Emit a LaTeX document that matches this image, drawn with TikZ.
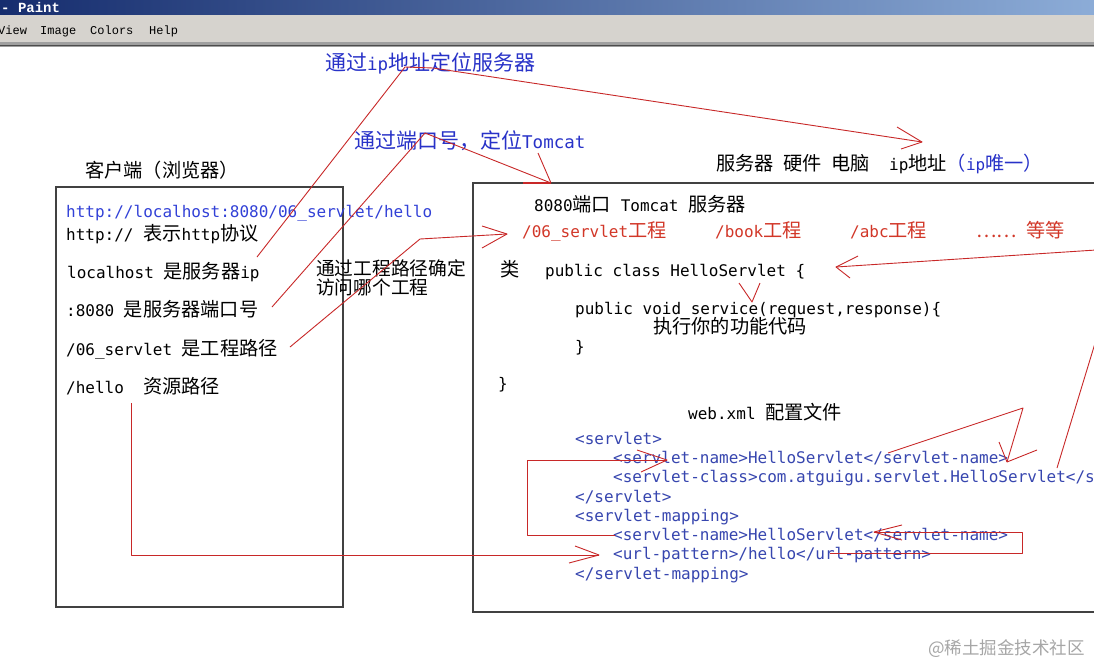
\documentclass[tikz,border=0pt]{standalone}
\usepackage{fontspec}
\setmonofont{DejaVu Sans Mono}
\newfontfamily\cjk[Scale=1.2]{Noto Sans CJK SC}
\newfontfamily\cjkplain{Noto Sans CJK SC}
\newfontfamily\menufont{Liberation Mono}
\newcommand\zh[1]{{\cjk #1}}
\definecolor{annblue}{RGB}{40,50,200}
\definecolor{urlblue}{RGB}{50,65,215}
\definecolor{xmlblue}{RGB}{55,70,175}
\definecolor{linered}{RGB}{200,40,40}
\definecolor{textred}{RGB}{210,55,40}
\definecolor{boxgray}{RGB}{65,65,65}
\definecolor{menugray}{RGB}{214,211,206}
\definecolor{titleleft}{RGB}{22,45,110}
\definecolor{titleright}{RGB}{140,172,215}
\begin{document}
\begin{tikzpicture}[x=1pt,y=-1pt,
  txt/.style={anchor=base west, inner sep=0pt, font=\ttfamily\fontsize{16}{18}\selectfont},
  ann/.style={txt, text=annblue, font=\ttfamily\fontsize{17.5}{19}\selectfont},
  note/.style={txt, font=\ttfamily\fontsize{15.6}{18}\selectfont},
  url/.style={txt, text=urlblue},
  xml/.style={txt, text=xmlblue},
  rtxt/.style={txt, text=textred},
  menu/.style={anchor=base west, inner sep=0pt, font=\menufont\fontsize{12}{12}\selectfont},
  redline/.style={draw=linered, line width=0.9pt, line join=round},
  box/.style={draw=boxgray, line width=1.4pt}]
\useasboundingbox (0,0) rectangle (1094,664);
\clip (0,0) rectangle (1094,664);
\fill[white] (0,0) rectangle (1094,664);
% window chrome
\shade[left color=titleleft, right color=titleright] (0,0) rectangle (1094,15);
\fill[menugray] (0,15) rectangle (1094,42);
\fill[gray!75] (0,42) rectangle (1094,47);
\draw[black!70, line width=1.2pt] (0,45.5) -- (1094,45.5);
\node[anchor=base west, inner sep=0pt, text=white, font=\menufont\bfseries\fontsize{14}{14}\selectfont] (title) at (1,12) {- Paint};
\node[menu] (mview) at (-2,34) {View};
\node[menu] (mimage) at (40,34) {Image};
\node[menu] (mcolors) at (90,34) {Colors};
\node[menu] (mhelp) at (149,34) {Help};
% boxes
\draw[box] (56,187) rectangle (343,607);
\draw[box] (1100,183) -- (473,183) -- (473,612) -- (1100,612);
% top annotations
\node[ann] (ipnote) at (325,70) {\zh{通过}ip\zh{地址定位服务器}};
\node[ann] (portnote) at (354,148) {\zh{通过端口号，定位}Tomcat};
\node[txt] (client) at (85,177) {\zh{客户端（浏览器）}};
\node[txt] (server) at (716,170) {\zh{服务器} \zh{硬件} \zh{电脑}\ \ ip\zh{地址}\textcolor{annblue}{\zh{（}ip\zh{唯一）}}};
% left box
\node[url] (urlfull) at (66,217) {http://localhost:8080/06\_servlet/hello};
\node[txt] (lhttp) at (66,240) {http:// \zh{表示}http\zh{协议}};
\node[txt] (lhost) at (67,278) {localhost \zh{是服务器}ip};
\node[txt] (lport) at (66,316) {:8080 \zh{是服务器端口号}};
\node[txt] (lproj) at (66,355) {/06\_servlet \zh{是工程路径}};
\node[txt] (lres) at (66,393) {/hello\ \ \zh{资源路径}};
\node[note] (projnote1) at (316,275) {\zh{通过工程路径确定}};
\node[note] (projnote2) at (316,294) {\zh{访问哪个工程}};
% right box
\node[txt] (tomcat) at (534,211) {8080\zh{端口} Tomcat \zh{服务器}};
\node[rtxt] (p1) at (522,237) {/06\_servlet\zh{工程}};
\node[rtxt] (p2) at (715,237) {/book\zh{工程}};
\node[rtxt] (p3) at (850,237) {/abc\zh{工程}};
\node[rtxt] (p4) at (976,237) {\zh{……} \zh{等等}};
\node[txt] (lei) at (500,276) {\zh{类}};
\node[txt] (cls) at (545,276) {public class HelloServlet \{};
\node[txt] (svc) at (575,314) {public void service(request,response)\{};
\node[txt] (exec) at (653,333) {\zh{执行你的功能代码}};
\node[txt] (close1) at (575,352) {\}};
\node[txt] (close2) at (498,389) {\}};
\node[txt] (webxml) at (688,419) {web.xml \zh{配置文件}};
\node[xml] (x1) at (575,444) {<servlet>};
\node[xml] (x2) at (613,463) {<servlet-name>HelloServlet</servlet-name>};
\node[xml] (x3) at (613,482) {<servlet-class>com.atguigu.servlet.HelloServlet</servlet-class>};
\node[xml] (x4) at (575,502) {</servlet>};
\node[xml] (x5) at (575,521) {<servlet-mapping>};
\node[xml] (x6) at (613,540) {<servlet-name>HelloServlet</servlet-name>};
\node[xml] (x7) at (613,559) {<url-pattern>/hello</url-pattern>};
\node[xml] (x8) at (575,579) {</servlet-mapping>};
\node[anchor=base west, inner sep=0pt, text=black!35, font=\cjkplain\fontsize{17.5}{19}\selectfont] (wm) at (928,654) {@稀土掘金技术社区};
% red connectors
\coordinate (a0) at (257,257); \coordinate (a1) at (405,67); \coordinate (a2) at (433,68); \coordinate (a3) at (922,142);
\draw[redline] (a0) -- (a1) -- (a2) -- (a3);
\draw[redline] (897,127) -- (a3) -- (901,149);
\coordinate (b0) at (272,307); \coordinate (b1) at (425,133); \coordinate (b2) at (551,183);
\draw[redline] (b0) -- (b1) -- (b2);
\draw[redline] (538,153) -- (b2);
\draw[draw=linered, line width=2.4pt] (523,183) -- (b2);
\coordinate (c0) at (290,347); \coordinate (c1) at (420,239); \coordinate (c2) at (507,234);
\draw[redline] (c0) -- (c1) -- (c2);
\draw[redline] (482,226) -- (c2) -- (482,248);
\coordinate (d0) at (1096,250); \coordinate (d1) at (836,267);
\draw[redline] (d0) -- (d1);
\draw[redline] (858,256) -- (d1) -- (850,278);
\coordinate (e0) at (1096,340); \coordinate (e1) at (1057,468);
\draw[redline] (e0) -- (e1);
\coordinate (f0) at (888,453); \coordinate (f1) at (1023,408); \coordinate (f2) at (1007,462);
\draw[redline] (f0) -- (f1) -- (f2);
\draw[redline] (999,442) -- (f2) -- (1037,450);
\coordinate (g0) at (615,535); \coordinate (g1) at (527,535); \coordinate (g2) at (527,460); \coordinate (g3) at (667,460);
\draw[redline] (g0) -- (g1) -- (g2) -- (g3);
\draw[redline] (637,450) -- (g3) -- (641,472);
\coordinate (h0) at (830,553); \coordinate (h1) at (1022,553); \coordinate (h2) at (1022,532); \coordinate (h3) at (874,532);
\draw[redline] (h0) -- (h1) -- (h2) -- (h3);
\draw[redline] (902,525) -- (h3) -- (902,540);
\coordinate (i0) at (131,403); \coordinate (i1) at (131,555); \coordinate (i2) at (599,555);
\draw[redline] (i0) -- (i1) -- (i2);
\draw[redline] (575,546) -- (i2) -- (569,563);
\coordinate (j0) at (739,283); \coordinate (j1) at (752,302); \coordinate (j2) at (760,283);
\draw[redline] (j0) -- (j1) -- (j2);
\end{tikzpicture}
\end{document}
